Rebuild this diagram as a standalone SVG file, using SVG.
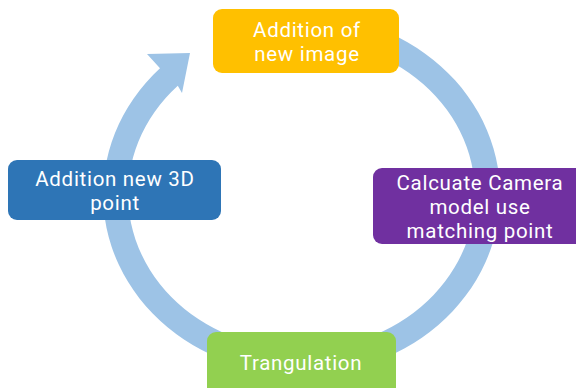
<svg xmlns="http://www.w3.org/2000/svg" width="576" height="388" viewBox="0 0 576 388">
  <style>
    .label { font-family: Roboto, "Liberation Sans", sans-serif; font-size: 20.5px; letter-spacing: 0.7px; fill: #ffffff; text-anchor: middle; }
    .box { stroke: none; }
  </style>
  <rect width="576" height="388" fill="#ffffff"/>

  <!-- cycle arrow: elliptical band ending in an arrowhead at upper left -->
  <g id="connectors">
    <path fill="#9DC3E6"
          d="M369.4,25.3
             A198.5,180 0 1 1 160,68.3
             L147,54 L190,53 L182,93 L177.8,85.8
             A173.5,155 0 1 0 360.8,48.8 Z"/>
  </g>

  <g id="node-new-image">
    <rect class="box" x="213" y="9" width="186" height="64" rx="9" fill="#FFC000"/>
    <text class="label" x="307" y="37">Addition of</text>
    <text class="label" x="307" y="61">new image</text>
  </g>

  <g id="node-camera-model">
    <rect class="box" x="373" y="168" width="215" height="76" rx="9" fill="#7030A0"/>
    <text class="label" x="480" y="190">Calcuate Camera</text>
    <text class="label" x="480" y="214">model use</text>
    <text class="label" x="480" y="238">matching point</text>
  </g>

  <g id="node-triangulation">
    <rect class="box" x="207" y="332" width="189" height="64" rx="9" fill="#92D050"/>
    <text class="label" x="301" y="370">Trangulation</text>
  </g>

  <g id="node-new-3d-point">
    <rect class="box" x="8" y="160" width="213" height="60" rx="9" fill="#2E75B6"/>
    <text class="label" x="115" y="186">Addition new 3D</text>
    <text class="label" x="115" y="210">point</text>
  </g>
</svg>
